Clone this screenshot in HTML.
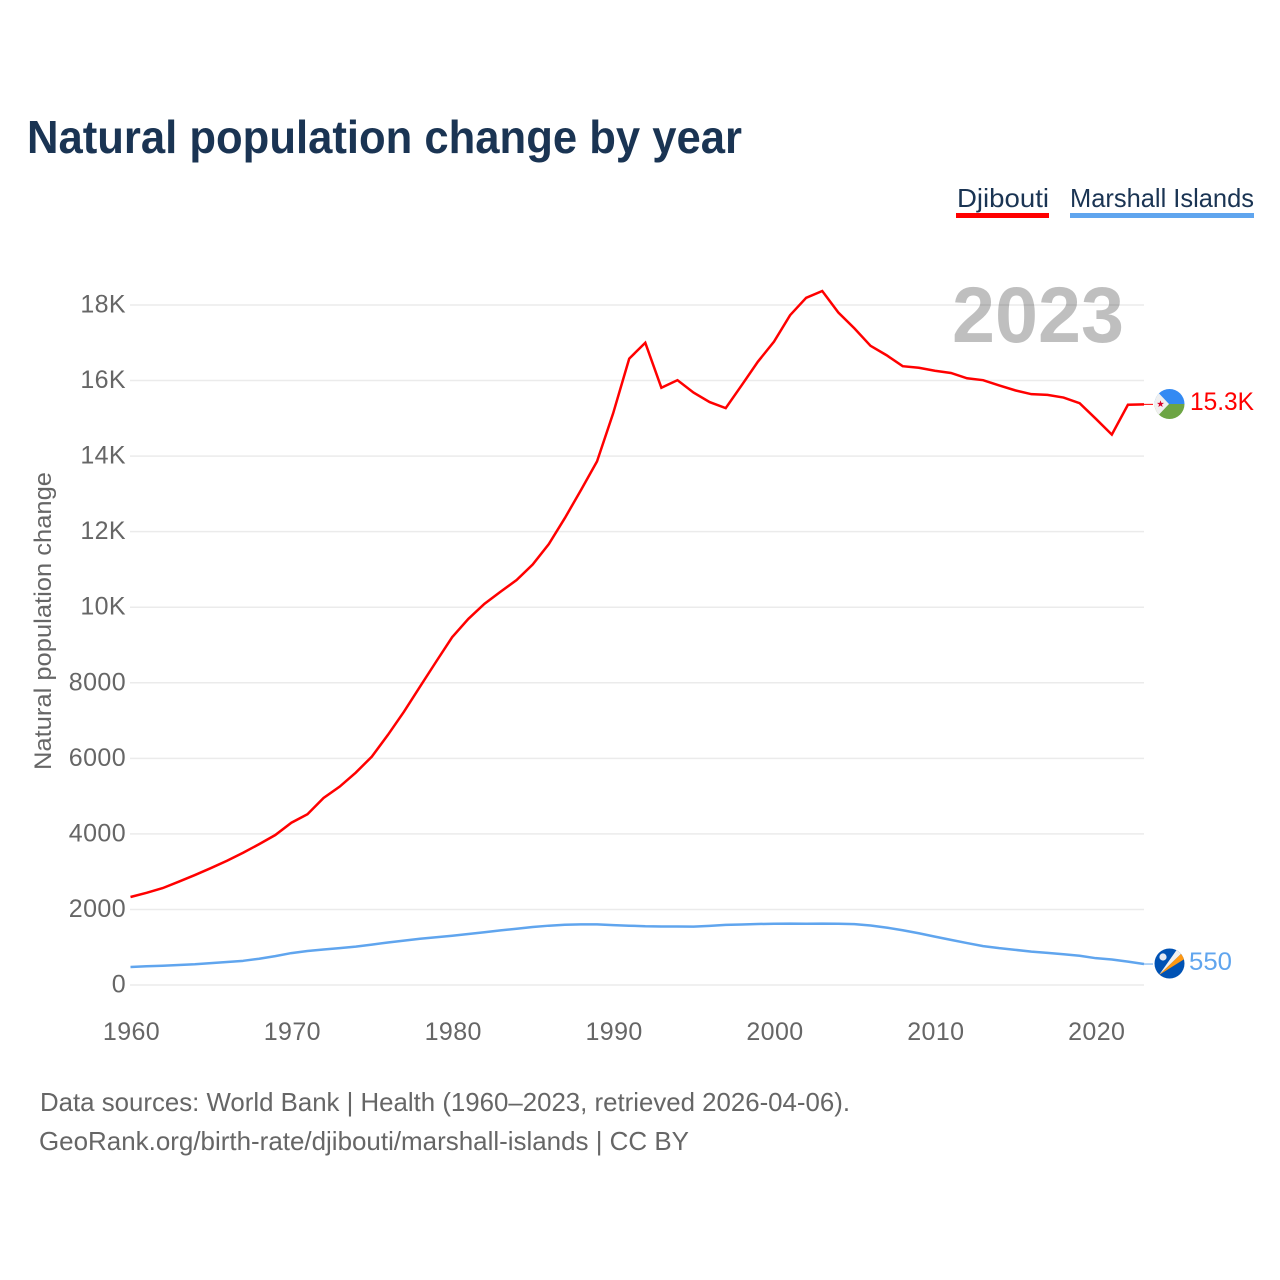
<!DOCTYPE html>
<html lang="en">
<head>
<meta charset="utf-8">
<title>Natural population change by year</title>
<style>
html,body{margin:0;padding:0;background:#fff;width:1280px;height:1280px;overflow:hidden}
svg{display:block;font-family:"Liberation Sans",sans-serif}
</style>
</head>
<body>
<svg id="chart" width="1280" height="1280" viewBox="0 0 1280 1280" xmlns="http://www.w3.org/2000/svg">
  <rect x="0" y="0" width="1280" height="1280" fill="#fff"/>
  <text x="27" y="153" font-size="46" font-weight="700" fill="#1a3453" textLength="715" lengthAdjust="spacingAndGlyphs">Natural population change by year</text>

  <g>
    <text x="957" y="207" font-size="26" fill="#1a3453" textLength="92" lengthAdjust="spacingAndGlyphs">Djibouti</text>
    <rect x="956" y="213" width="93" height="5" fill="#ff0000"/>
  </g>
  <g>
    <text x="1070" y="207" font-size="26" fill="#1a3453" textLength="184" lengthAdjust="spacingAndGlyphs">Marshall Islands</text>
    <rect x="1070" y="213" width="184" height="5" fill="#60a5ee"/>
  </g>

  <text transform="translate(51,621) rotate(-90)" text-anchor="middle" font-size="24" fill="#666" textLength="298" lengthAdjust="spacingAndGlyphs">Natural population change</text>

  <g id="grid"></g>
  <g id="y-labels"></g>
  <g id="x-labels"></g>

  <text x="952" y="342" font-size="79" font-weight="700" fill="#000" fill-opacity="0.25" textLength="172" lengthAdjust="spacingAndGlyphs">2023</text>

  <g id="series"></g>

  <g>
    <clipPath id="clip-dj"><circle cx="1169.500" cy="404" r="15"/></clipPath>
    <g clip-path="url(#clip-dj)">
      <rect x="1154" y="388" width="31" height="16" fill="#338af3"/>
      <rect x="1154" y="404" width="31" height="16" fill="#6da544"/>
      <polygon points="1152,386 1169,404 1152,422" fill="#f0f0f0"/>
      <polygon points="1160.500,400.400 1161.400,402.900 1164,402.900 1161.900,404.500 1162.700,407 1160.500,405.500 1158.300,407 1159.100,404.500 1157,402.900 1159.600,402.900" fill="#d80027"/>
    </g>
  </g>
  <g>
    <clipPath id="clip-mh"><circle cx="1169.500" cy="963.500" r="15"/></clipPath>
    <g clip-path="url(#clip-mh)">
      <rect x="1154" y="948" width="31" height="31" fill="#0052b4"/>
      <polygon points="1159,975 1178,948 1183,952" fill="#f0f0f0"/>
      <polygon points="1159,975 1183,952 1186,958" fill="#ff9811"/>
      <circle cx="1163" cy="957" r="3.600" fill="#e4e9f2"/>
    </g>
  </g>

  <text x="1190" y="410" font-size="25" fill="#ff0000" textLength="64" lengthAdjust="spacingAndGlyphs">15.3K</text>
  <text x="1189" y="970" font-size="25" fill="#60a5ee" textLength="43" lengthAdjust="spacingAndGlyphs">550</text>

  <text x="40" y="1111" font-size="26" fill="#666" textLength="810" lengthAdjust="spacingAndGlyphs">Data sources: World Bank | Health (1960–2023, retrieved 2026-04-06).</text>
  <text x="39" y="1150" font-size="26" fill="#666" textLength="650" lengthAdjust="spacingAndGlyphs">GeoRank.org/birth-rate/djibouti/marshall-islands | CC BY</text>
</svg>
<script>
const startYear = 1960;
const djiboutiValues = [
  2330,2440,2565,2735,2910,3095,3290,3500,3730,3970,
  4295,4520,4950,5250,5620,6045,6620,7235,7900,8560,
  9210,9690,10090,10410,10720,11130,11670,12360,13100,13860,
  15130,16580,17000,15810,16010,15680,15430,15270,15880,16500,
  17030,17730,18190,18370,17800,17380,16920,16670,16380,16340,
  16260,16200,16060,16010,15870,15740,15640,15620,15550,15400,
  14990,14570,15360,15370
];
const marshallValues = [
  476,495,510,530,550,580,610,640,695,765,
  845,900,940,975,1015,1070,1125,1175,1225,1265,
  1305,1350,1395,1445,1490,1535,1570,1595,1605,1605,
  1585,1570,1555,1550,1550,1545,1565,1590,1600,1615,
  1620,1625,1620,1625,1620,1610,1575,1520,1450,1370,
  1280,1195,1110,1030,975,930,885,850,815,775,
  710,675,620,555
];
const yTickValues = [0,2000,4000,6000,8000,10000,12000,14000,16000,18000];
const yTickLabels = ["0","2000","4000","6000","8000","10K","12K","14K","16K","18K"];
const xTickValues = [1960,1970,1980,1990,2000,2010,2020];
const xTickLabels = ["1960","1970","1980","1990","2000","2010","2020"];

const NS = "http://www.w3.org/2000/svg";
function xScale(year){ return 130.5 + (year - 1960) * (1144 - 130.5) / 63; }
function yScale(value){ return 985 - value * (985 - 305) / 18000; }

const grid = document.getElementById("grid");
const yLabels = document.getElementById("y-labels");
const xLabels = document.getElementById("x-labels");
const series = document.getElementById("series");

yTickValues.forEach(function(v, i){
  const line = document.createElementNS(NS, "line");
  
  
  line.setAttribute("x1", 130);
  line.setAttribute("x2", 1144);
  line.setAttribute("y1", yScale(v));
  line.setAttribute("y2", yScale(v));
  line.setAttribute("stroke", "#ebebeb");
  line.setAttribute("stroke-width", "1.5");
  grid.appendChild(line);

  const t = document.createElementNS(NS, "text");
  
  
  t.setAttribute("x", 126);
  t.setAttribute("y", yScale(v) + 7.5);
  t.setAttribute("text-anchor", "end");
  t.setAttribute("font-size", "25");
  t.setAttribute("letter-spacing", "0.4");
  t.setAttribute("fill", "#666");
  t.textContent = yTickLabels[i];
  yLabels.appendChild(t);
});

xTickValues.forEach(function(v, i){
  const t = document.createElementNS(NS, "text");
  
  
  t.setAttribute("x", xScale(v) + 1);
  t.setAttribute("y", 1040);
  t.setAttribute("text-anchor", "middle");
  t.setAttribute("font-size", "25");
  t.setAttribute("letter-spacing", "0.4");
  t.setAttribute("fill", "#666");
  t.textContent = xTickLabels[i];
  xLabels.appendChild(t);
});

function linePath(values){
  return values.map(function(v, i){
    return (i ? "L" : "M") + xScale(startYear + i).toFixed(2) + " " + yScale(v).toFixed(2);
  }).join("");
}

const marshallLine = document.createElementNS(NS, "path");


marshallLine.setAttribute("d", linePath(marshallValues));
marshallLine.setAttribute("fill", "none");
marshallLine.setAttribute("stroke", "#60a5ee");
marshallLine.setAttribute("stroke-width", "2.5");
marshallLine.setAttribute("stroke-linejoin", "round");
series.appendChild(marshallLine);

const djiboutiLine = document.createElementNS(NS, "path");


djiboutiLine.setAttribute("d", linePath(djiboutiValues));
djiboutiLine.setAttribute("fill", "none");
djiboutiLine.setAttribute("stroke", "#ff0000");
djiboutiLine.setAttribute("stroke-width", "2.5");
djiboutiLine.setAttribute("stroke-linejoin", "miter");
series.appendChild(djiboutiLine);

const djiboutiConnector = document.createElementNS(NS, "line");


djiboutiConnector.setAttribute("x1", xScale(2023));
djiboutiConnector.setAttribute("x2", 1153);
djiboutiConnector.setAttribute("y1", yScale(djiboutiValues[djiboutiValues.length - 1]));
djiboutiConnector.setAttribute("y2", yScale(djiboutiValues[djiboutiValues.length - 1]));
djiboutiConnector.setAttribute("stroke", "#ff0000");
djiboutiConnector.setAttribute("stroke-width", "1");
series.appendChild(djiboutiConnector);

const marshallConnector = document.createElementNS(NS, "line");


marshallConnector.setAttribute("x1", xScale(2023));
marshallConnector.setAttribute("x2", 1153);
marshallConnector.setAttribute("y1", yScale(marshallValues[marshallValues.length - 1]));
marshallConnector.setAttribute("y2", yScale(marshallValues[marshallValues.length - 1]));
marshallConnector.setAttribute("stroke", "#60a5ee");
marshallConnector.setAttribute("stroke-width", "1");
series.appendChild(marshallConnector);
</script>
</body>
</html>
